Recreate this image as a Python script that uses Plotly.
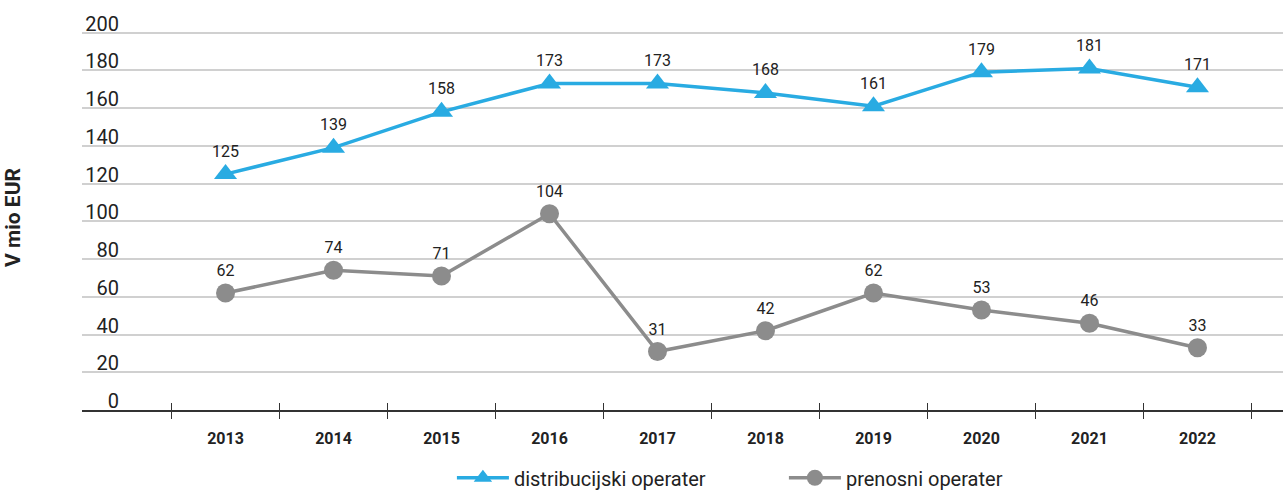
import plotly.graph_objects as go

years = ["2013", "2014", "2015", "2016", "2017", "2018", "2019", "2020", "2021", "2022"]
distribucijski = [125, 139, 158, 173, 173, 168, 161, 179, 181, 171]
prenosni = [62, 74, 71, 104, 31, 42, 62, 53, 46, 33]
y_ticks = [0, 20, 40, 60, 80, 100, 120, 140, 160, 180, 200]

BLUE = "#29ABE2"
GRAY = "#8C8C8C"
TXT = "#222222"
FONT = "Roboto"

idx = list(range(len(years)))
xr = [-1.329, len(years) - 1 + 0.792]
yr = [0, 204]

fig = go.Figure()
fig.add_trace(go.Scatter(
    x=idx, y=distribucijski, name="distribucijski operater",
    mode="lines+markers+text", text=[str(v) for v in distribucijski],
    textposition="top center", textfont=dict(family=FONT, size=16, color=TXT),
    line=dict(color=BLUE, width=3.5),
    marker=dict(symbol="triangle-up", size=20, color=BLUE),
    cliponaxis=False,
))
fig.add_trace(go.Scatter(
    x=idx, y=prenosni, name="prenosni operater",
    mode="lines+markers+text", text=[str(v) for v in prenosni],
    textposition="top center", textfont=dict(family=FONT, size=16, color=TXT),
    line=dict(color=GRAY, width=3.5),
    marker=dict(symbol="circle", size=19, color=GRAY),
    cliponaxis=False,
))

fig.update_layout(
    width=1283, height=491,
    margin=dict(l=82, r=0, t=25, b=81, autoexpand=False),
    paper_bgcolor="white", plot_bgcolor="white",
    font=dict(family=FONT, color=TXT),
    showlegend=True,
    legend=dict(orientation="h", x=0.308, xanchor="left", y=-0.176, yanchor="middle",
                font=dict(family=FONT, size=20, color=TXT),
                itemwidth=52,
                entrywidth=265, entrywidthmode="pixels"),
    xaxis=dict(
        range=xr, tickmode="array", tickvals=idx, ticktext=years,
        ticks="", showgrid=False, zeroline=False, automargin=False,
        showline=True, linecolor="#333333", linewidth=1.5,
        tickfont=dict(family=FONT, size=16, color=TXT, weight="bold"),
        ticklabelstandoff=13,
        minor=dict(ticks="outside", tick0=-0.5, dtick=1, ticklen=7,
                   tickcolor="#333333", tickwidth=1.2, showgrid=False),
    ),
    xaxis2=dict(
        overlaying="x", anchor="y", side="bottom", range=xr, automargin=False,
        tickmode="linear", tick0=-0.5, dtick=1, ticks="inside", ticklen=7,
        tickcolor="#333333", tickwidth=1.2, showticklabels=False,
        showgrid=False, zeroline=False, showline=False,
    ),
    yaxis=dict(
        range=yr, tickvals=y_ticks, showticklabels=False, ticks="", automargin=False,
        showgrid=True, gridcolor="#D0D0D0", gridwidth=1.5, zeroline=False,
        title=dict(text="<b>V mio EUR</b>", standoff=54,
                   font=dict(family=FONT, size=21, color=TXT)),
    ),
    yaxis2=dict(
        overlaying="y", anchor="free", position=(119 - 82) / 1201, side="left",
        range=yr, tickvals=y_ticks, ticks="", ticklabelposition="outside top",
        ticklabelshift=5,
        showgrid=False, zeroline=False, showline=False, automargin=False,
        tickfont=dict(family=FONT, size=20, color=TXT),
    ),
)

# invisible helper trace so overlay axes render
fig.add_trace(go.Scatter(x=[xr[0]], y=[0], xaxis="x2", yaxis="y2", mode="markers",
                         marker=dict(opacity=0), showlegend=False, hoverinfo="skip"))

fig.write_html("out.html", config={"displayModeBar": False},
               post_script="document.body.style.margin='0';")
